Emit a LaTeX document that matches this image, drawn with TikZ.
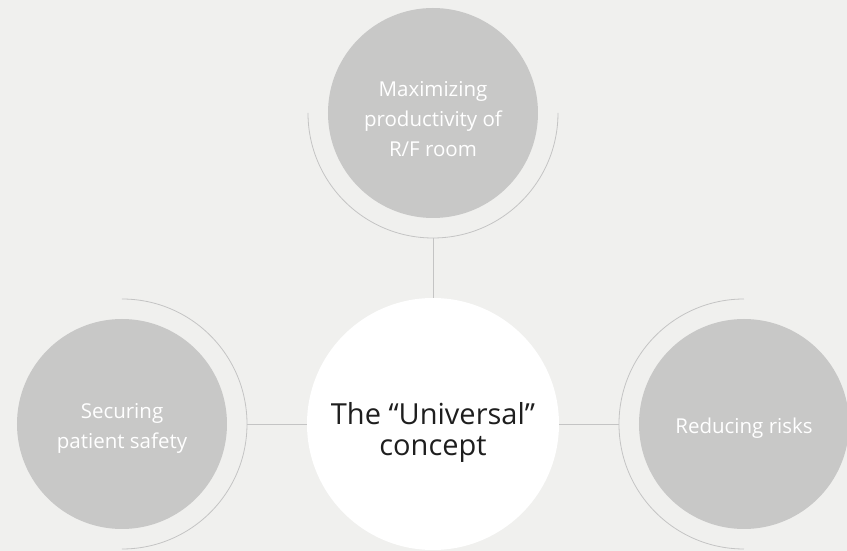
\documentclass[tikz,border=0pt]{standalone}
\usepackage{fontspec}
\setmainfont{Open Sans}
\usepackage{xcolor}
\usetikzlibrary{positioning}

\definecolor{bggrey}{HTML}{F0F0EE}
\definecolor{discgrey}{HTML}{C8C8C7}
\definecolor{ringgrey}{HTML}{C4C4C4}
\definecolor{darktext}{HTML}{1E1E1E}

\begin{document}
\begin{tikzpicture}[node distance=80pt,
                    side node/.style={circle,fill=discgrey,minimum size=210pt,inner sep=0pt,outer sep=0pt},
                    main node/.style={circle,fill=white,minimum size=252pt,inner sep=0pt,outer sep=0pt},
                    side text/.style={text=white,align=center,font=\fontsize{20.5}{30}\selectfont},
                    main text/.style={text=darktext,align=center,font=\fontsize{29}{31}\selectfont},
                    ring/.style={draw=ringgrey,line width=0.8pt}]
\path[use as bounding box,fill=bggrey] (-433pt,-127pt) rectangle (414pt,424pt);

\node[main node] (concept) [label={[main text,yshift=-8pt]center:The “Universal”\\concept}] {};
\node[side node] (top) [above=of concept, label={[side text,yshift=-6pt]center:Maximizing\\productivity of\\R/F room}] {};
\node[side node] (left) [left=of concept, label={[side text,yshift=-4pt]center:Securing\\patient safety}] {};
\node[side node] (right) [right=of concept, label={[side text,yshift=-4pt]center:Reducing risks}] {};

\draw[ring] (top.center) ++(180:125pt) arc[start angle=180,end angle=360,radius=125pt];
\draw[ring] (left.center) ++(90:125pt) arc[start angle=90,end angle=-90,radius=125pt];
\draw[ring] (right.center) ++(90:125pt) arc[start angle=90,end angle=270,radius=125pt];

\coordinate (top ring) at ([yshift=-125pt]top.center);
\coordinate (left ring) at ([xshift=125pt]left.center);
\coordinate (right ring) at ([xshift=-125pt]right.center);

\path[ring]
  (top ring) edge (concept)
  (left ring) edge (concept)
  (right ring) edge (concept);
\end{tikzpicture}
\end{document}
